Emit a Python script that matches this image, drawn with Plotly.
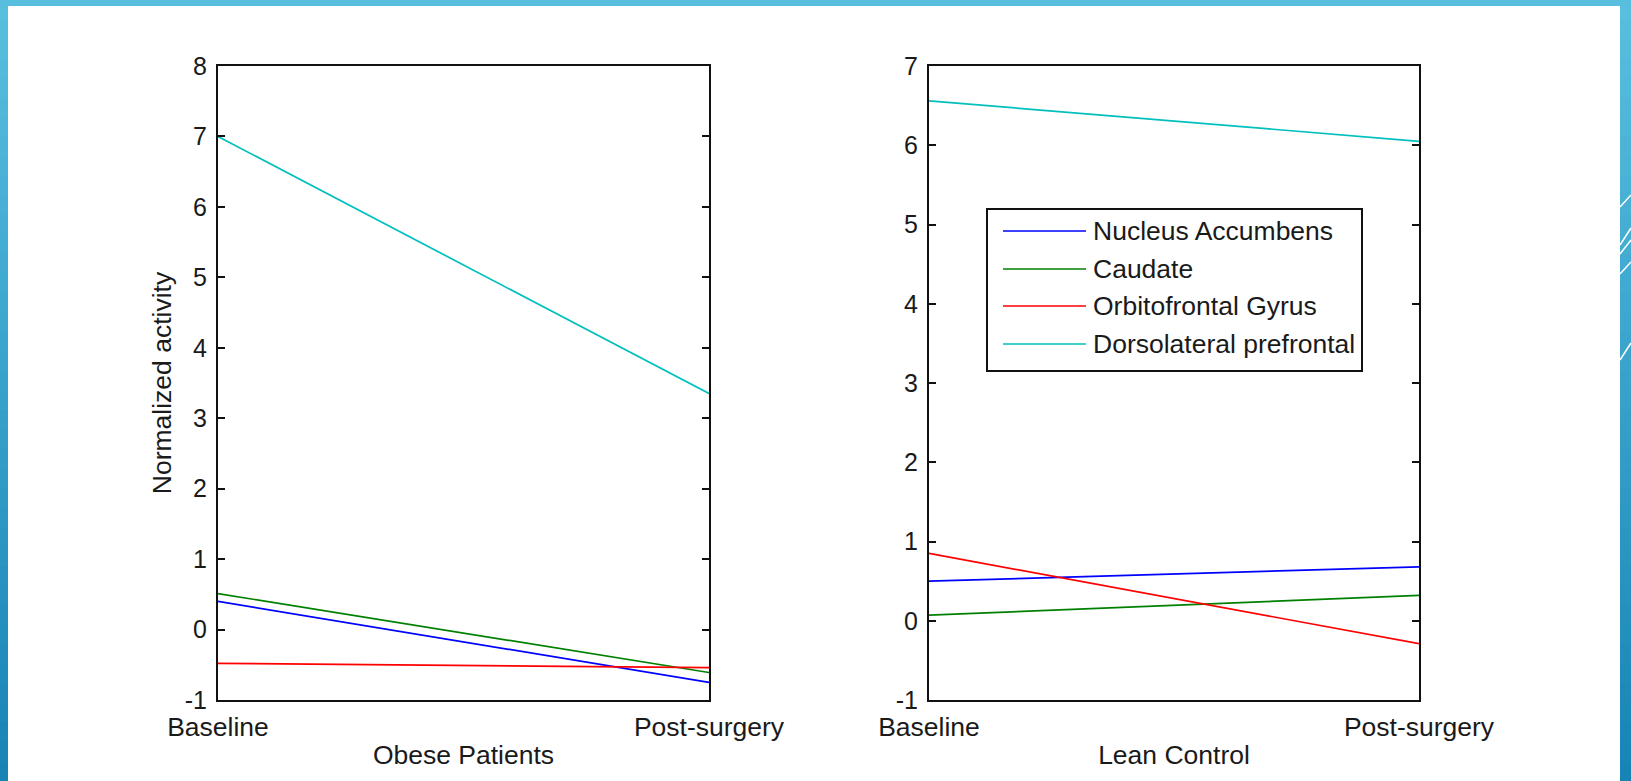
import plotly.graph_objects as go

# ---------------- data ----------------
stages = ["Baseline", "Post-surgery"]
regions = ["Nucleus Accumbens", "Caudate", "Orbitofrontal Gyrus", "Dorsolateral prefrontal"]

obese_nucleus_accumbens = [0.40, -0.75]
obese_caudate = [0.51, -0.61]
obese_orbitofrontal = [-0.48, -0.54]
obese_dorsolateral = [7.00, 3.35]

lean_nucleus_accumbens = [0.50, 0.68]
lean_caudate = [0.07, 0.32]
lean_orbitofrontal = [0.85, -0.29]
lean_dorsolateral = [6.56, 6.05]

obese_yticks = [-1, 0, 1, 2, 3, 4, 5, 6, 7, 8]
lean_yticks = [-1, 0, 1, 2, 3, 4, 5, 6, 7]

colors = ["#0000FF", "#008000", "#FF0000", "#00BFBF"]

W, H = 1631, 781
FONT = "Arial, Liberation Sans, Helvetica, sans-serif"
TXT = "#1a1a1a"
FS = 26.5
FSY = 25

fig = go.Figure()

obese = [obese_nucleus_accumbens, obese_caudate, obese_orbitofrontal, obese_dorsolateral]
lean = [lean_nucleus_accumbens, lean_caudate, lean_orbitofrontal, lean_dorsolateral]

for name, vals, col in zip(regions, obese, colors):
    fig.add_trace(go.Scatter(x=stages, y=vals, mode="lines", name=name,
                             line=dict(color=col, width=1.7), showlegend=False,
                             xaxis="x", yaxis="y"))
for name, vals, col in zip(regions, lean, colors):
    fig.add_trace(go.Scatter(x=stages, y=vals, mode="lines", name=name,
                             line=dict(color=col, width=1.7), showlegend=False,
                             xaxis="x2", yaxis="y2"))

def px_x(p):
    return p / W

def px_y(p):
    return 1 - p / H

ydom = [px_y(700), px_y(66)]

axis_common = dict(showline=True, linecolor="#111", linewidth=2, mirror="ticks",
                   ticks="inside", ticklen=7, tickwidth=2, tickcolor="#111",
                   showgrid=False, zeroline=False, automargin=False)
xfont = dict(family=FONT, size=FS, color=TXT)
yfont = dict(family=FONT, size=FSY, color=TXT)

fig.update_layout(
    width=W, height=H,
    margin=dict(l=0, r=0, t=0, b=0),
    paper_bgcolor="white", plot_bgcolor="white",
    showlegend=False,
    xaxis=dict(domain=[px_x(218), px_x(709)], type="category", range=[0, 1],
               anchor="y", ticklabelstandoff=2, tickfont=xfont,
               title=dict(text="Obese Patients", font=dict(family=FONT, size=FS, color=TXT), standoff=5),
               **axis_common),
    yaxis=dict(domain=ydom, range=[-1, 8], tickmode="array", tickvals=obese_yticks,
               ticktext=[str(v) for v in obese_yticks], anchor="x", ticklabelstandoff=4,
               tickfont=yfont,
               title=dict(text="Normalized activity", font=dict(family=FONT, size=FS, color=TXT), standoff=5),
               **axis_common),
    xaxis2=dict(domain=[px_x(929), px_x(1419)], type="category", range=[0, 1],
                anchor="y2", ticklabelstandoff=2, tickfont=xfont,
                title=dict(text="Lean Control", font=dict(family=FONT, size=FS, color=TXT), standoff=5),
                **axis_common),
    yaxis2=dict(domain=ydom, range=[-1, 7], tickmode="array", tickvals=lean_yticks,
                ticktext=[str(v) for v in lean_yticks], anchor="x2", ticklabelstandoff=4,
                tickfont=yfont,
                **axis_common),
)

shapes = []
annotations = []

# ---- manual legend box in the right panel ----
lx0, lx1, ly0, ly1 = 987, 1362, 209, 371
shapes.append(dict(type="rect", xref="paper", yref="paper",
                   x0=px_x(lx0), x1=px_x(lx1), y0=px_y(ly1), y1=px_y(ly0),
                   line=dict(color="#111", width=2), fillcolor="white", layer="above"))
row_y = [231, 269, 306, 344]
for name, col, ry in zip(regions, colors, row_y):
    shapes.append(dict(type="line", xref="paper", yref="paper",
                       x0=px_x(1003), x1=px_x(1086), y0=px_y(ry), y1=px_y(ry),
                       line=dict(color=col, width=1.7), layer="above"))
    annotations.append(dict(xref="paper", yref="paper", x=px_x(1091), y=px_y(ry),
                            text=name, showarrow=False, xanchor="left", yanchor="middle",
                            font=dict(family=FONT, size=FS, color=TXT)))

# ---- decorative slide frame ----
def lerp(c1, c2, t):
    return "#%02x%02x%02x" % tuple(int(round(a + (b - a) * t)) for a, b in zip(c1, c2))

top_c = (0x58, 0xBF, 0xDE)
bot_c = (0x18, 0x84, 0xB6)
n = 40
for i in range(n):
    t = i / (n - 1)
    c = lerp(top_c, bot_c, t)
    y0 = H * i / n
    y1 = H * (i + 1) / n + 1
    shapes.append(dict(type="rect", xref="paper", yref="paper", x0=0, x1=px_x(8),
                       y0=px_y(y1), y1=px_y(y0), line=dict(width=0), fillcolor=c, layer="below"))
    shapes.append(dict(type="rect", xref="paper", yref="paper", x0=px_x(1620), x1=1,
                       y0=px_y(y1), y1=px_y(y0), line=dict(width=0), fillcolor=c, layer="below"))
shapes.append(dict(type="rect", xref="paper", yref="paper", x0=0, x1=1,
                   y0=px_y(6), y1=1, line=dict(width=0), fillcolor="#57BEDD", layer="below"))

for (ya, yb) in [(207, 195), (245, 228), (254, 240), (274, 262), (360, 343)]:
    shapes.append(dict(type="line", xref="paper", yref="paper",
                       x0=px_x(1620), x1=1, y0=px_y(ya), y1=px_y(yb),
                       line=dict(color="white", width=1.5), layer="below"))

fig.update_layout(shapes=shapes, annotations=annotations)

fig.write_html("out.html", config={"displayModeBar": False},
               post_script="document.body.style.margin='0';document.body.style.padding='0';document.body.style.overflow='hidden';")
